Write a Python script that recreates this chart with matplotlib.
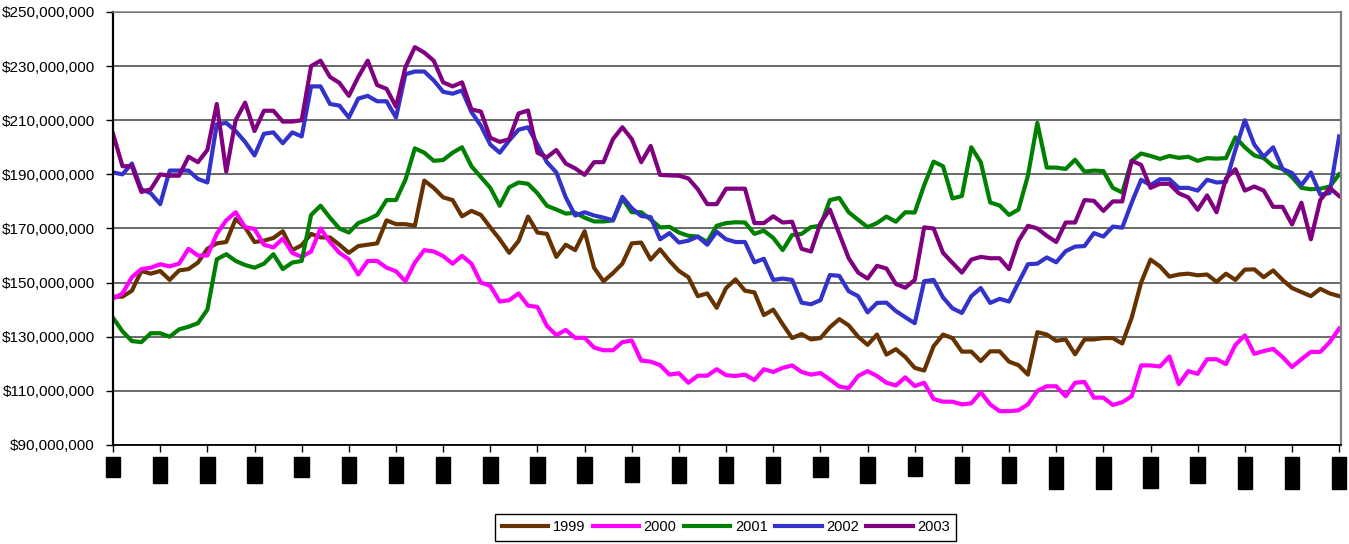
import matplotlib
matplotlib.use("Agg")
import matplotlib.pyplot as plt
from matplotlib.ticker import FuncFormatter

plt.rcParams['font.family'] = ['Liberation Sans', 'DejaVu Sans']

# daily portfolio value (millions of dollars), one value every two trading days
y1999 = [144.8, 144.8, 147, 154.3, 153.3, 154.3, 151, 154.5, 155, 157.4, 162.5, 164.5, 165, 173.5, 170.4, 165,
         165.5, 166.5, 169, 162, 163.8, 168, 166.7, 166.7, 164, 161, 163.5, 164, 164.5, 173, 171.6, 171.6, 171,
         187.7, 185, 181.5, 180.5, 174.5, 176.5, 175, 170.4, 166, 161, 165.4, 174.4, 168.5, 168, 159.5, 164, 162,
         169, 155.5, 150.5, 153.5, 157, 164.5, 164.8, 158.5, 162.3, 158, 154.3, 152, 145, 146, 140.7, 148,
         151.2, 147, 146.4, 138, 140, 134.6, 129.5, 131, 129, 129.5, 133.5, 136.5, 134.2, 130, 127, 130.8, 123.4,
         125.4, 122.5, 118.5, 117.5, 126.5, 130.8, 129.5, 124.5, 124.5, 121, 124.6, 124.6, 120.8, 119.5, 116, 131.7,
         130.8, 128.5, 129, 123.5, 129, 129, 129.5, 129.5, 127.5, 137, 150, 158.5, 156, 152.2, 153, 153.3, 152.7,
         153, 150.3, 153.3, 151, 154.8, 154.9, 152, 154.5, 151, 148, 146.5, 145, 147.7, 146, 145]
y2000 = [144.1, 146, 152, 155, 155.5, 156.8, 156, 157, 162.5, 160, 160, 168, 173, 176, 170.5, 169.8, 164, 163,
         166.3, 161, 159.5, 161.5, 170, 165, 161, 158.6, 153, 158, 158, 155.5, 154.2, 150.5, 157.4,
         162, 161.5, 159.8, 157, 159.9, 157, 150, 148.8, 143, 143.5, 146, 141.5, 141, 134, 130.6, 132.5, 129.6,
         129.6, 126, 125, 125, 128, 128.6, 121.2, 120.8, 119.5, 116, 116.5, 113, 115.6, 115.6, 118, 115.8,
         115.5, 116, 114, 118, 117, 118.5, 119.4, 117, 116, 116.6, 114.2, 111.6, 111, 115.5, 117.3, 115.5, 113,
         112, 115, 111.8, 113, 107, 106, 106, 105, 105.4, 109.5, 105, 102.5, 102.5, 102.8, 105, 110,
         111.7, 111.7, 108, 113, 113.3, 107.5, 107.5, 104.8, 105.8, 108, 119.4, 119.4, 119, 122.7, 112.5, 117.3,
         116.3, 121.7, 121.7, 119.9, 127, 130.5, 123.7, 124.7, 125.5, 122.5, 118.8, 121.7, 124.4, 124.4, 128, 133]
y2001 = [137, 132, 128.4, 128, 131.3, 131.3, 130, 132.7, 133.7, 135, 140, 158.6, 160.5, 158, 156.5, 155.5, 157,
         160.5, 155, 157.4, 158, 175, 178.4, 174, 170, 168.5, 172, 173.3, 175, 180.5, 180.5, 188, 199.6,
         198, 195, 195.3, 198, 200, 193, 189, 185, 178.4, 185.2, 187, 186.5, 183, 178.4, 177, 175.5, 175.8, 174,
         172.6, 172.6, 173, 181, 176, 176, 173.3, 170.4, 170.6, 168.5, 167.3, 167, 165, 171, 172,
         172.3, 172.2, 168, 169.2, 166.5, 162, 167.6, 168, 170.5, 171, 180.5, 181.3, 176, 173.2, 170.5, 172,
         174.4, 172.5, 176, 175.9, 186, 194.7, 193, 181.1, 182, 200, 194.5, 179.6, 178.5, 175, 177, 189.5, 209,
         192.5, 192.5, 192, 195.4, 191, 191.4, 191.2, 185, 183.3, 195, 197.7, 196.8, 195.7, 196.8, 196.1, 196.5,
         195, 196, 195.8, 196, 203.7, 200, 197, 196, 193, 192, 189, 185, 184.5, 184.7, 185.5, 190]
y2002 = [190.7, 190, 194, 184.5, 183, 179, 191.4, 191.4, 191.4, 188.3, 187, 208.5, 209, 206, 202, 197, 205,
         205.5, 201.5, 205.5, 204, 222.5, 222.5, 216, 215.4, 211, 218, 219, 217, 217, 211, 227, 228,
         228, 224.7, 220.5, 219.8, 221, 213, 208, 201, 198, 202.5, 206.5, 207.4, 201, 194.5, 190.7, 181.5, 174.8,
         176, 174.8, 174, 173, 181.7, 177.5, 174.6, 174.2, 166, 168.3, 164.8, 165.5, 167, 164, 168.8, 166,
         165, 165, 157.5, 158.8, 151, 151.5, 151, 142.6, 142, 143.5, 152.8, 152.5, 146.8, 145, 139, 142.5, 142.6,
         139.5, 137.2, 135, 150.5, 151, 144.5, 140.5, 138.8, 145, 148, 142.5, 144, 143, 150, 156.8, 157,
         159.3, 157.5, 161.6, 163.3, 163.5, 168.3, 167, 170.7, 170.3, 179.5, 188, 186, 188.2, 188.2, 185, 185,
         184, 188, 187, 187.2, 199.1, 210, 201, 196.5, 200, 192, 190.5, 186, 190.7, 182.5, 183.1, 204]
y2003 = [205, 193, 193, 183.5, 184.5, 190, 189.5, 189.5, 196.5, 194.5, 199, 216, 191, 210, 216.5, 206, 213.5,
         213.5, 209.5, 209.5, 210, 230, 232, 226, 223.8, 219, 226, 232, 223, 221.6, 215, 229.6, 237,
         235, 232, 224, 222.5, 224, 214, 213.2, 203.5, 202, 203, 212.5, 213.6, 198, 196.3, 199, 194, 192.2,
         189.8, 194.5, 194.5, 203, 207.4, 203, 194.5, 200.5, 189.8, 189.6, 189.5, 188.5, 184.5, 179, 179, 184.7,
         184.7, 184.7, 172, 172, 174.5, 172.2, 172.5, 162.5, 161.5, 172, 177, 168, 159, 153.7, 151.5, 156.2,
         155.2, 149.5, 148.1, 151, 170.4, 170, 161, 157.3, 153.7, 158.5, 159.5, 159, 159, 155, 165.4, 171, 170,
         167.3, 165, 172.2, 172.2, 180.5, 180.2, 176.5, 180, 180, 195, 193.5, 185, 186.5, 186.5, 183, 181.5,
         176.9, 182.2, 176, 188.5, 191.9, 184, 185.5, 184, 178, 178, 171.5, 179.5, 166, 180.5, 185, 182]

years = ["1999", "2000", "2001", "2002", "2003"]
colors = ["#663300", "#ff00ff", "#008000", "#3333cc", "#800080"]

date_labels = ["1/2", "1/16", "1/31", "2/14", "3/3", "3/17", "3/31", "4/14", "4/29", "5/13", "5/28", "6/11",
               "6/25", "7/10", "7/24", "8/7", "8/21", "9/5", "9/19", "10/3", "10/17", "10/31", "11/14", "12/1",
               "12/15", "12/29", "12/31"]

fig = plt.figure(figsize=(13.49, 5.44), dpi=100)
ax = fig.add_axes([0.0838, 0.182, 0.9103, 0.796])

for vals, yr, c in zip([y1999, y2000, y2001, y2002, y2003], years, colors):
    ax.plot(range(len(vals)), [v * 1e6 for v in vals], color=c, lw=3.0, label=yr,
            solid_joinstyle='round')

ax.set_ylim(90e6, 250e6)
ax.set_xlim(0, 130.2)
ax.set_yticks([90e6 + 20e6 * k for k in range(9)])
ax.yaxis.set_major_formatter(FuncFormatter(lambda v, p: "${:,.0f}".format(v)))
ax.grid(axis='y', color='#404040', lw=1.1)
ax.set_axisbelow(True)

ax.set_xticks(range(0, 131, 5))
ax.set_xticklabels(date_labels, rotation=90, fontsize=8, color='black',
                   bbox=dict(facecolor='black', edgecolor='black', pad=1.6))
ax.tick_params(axis='x', direction='out', length=5, width=1, pad=5)
ax.tick_params(axis='y', direction='out', length=5, width=1, pad=8, labelsize=11)

ax.spines['left'].set_linewidth(1.6)
ax.spines['bottom'].set_linewidth(1.3)
ax.spines['right'].set_color('#808080')
ax.spines['right'].set_linewidth(1.6)
ax.spines['top'].set_color('#808080')
ax.spines['top'].set_linewidth(1.1)

leg = ax.legend(loc='center', bbox_to_anchor=(0.538, 0.031), bbox_transform=fig.transFigure,
                ncol=5, fontsize=10.5, handlelength=3.2, handletextpad=0.3, columnspacing=0.5,
                fancybox=False, framealpha=1, borderpad=0.45)
leg.get_frame().set_edgecolor('black')
leg.get_frame().set_linewidth(1.0)

fig.savefig("out.png", dpi=100)
